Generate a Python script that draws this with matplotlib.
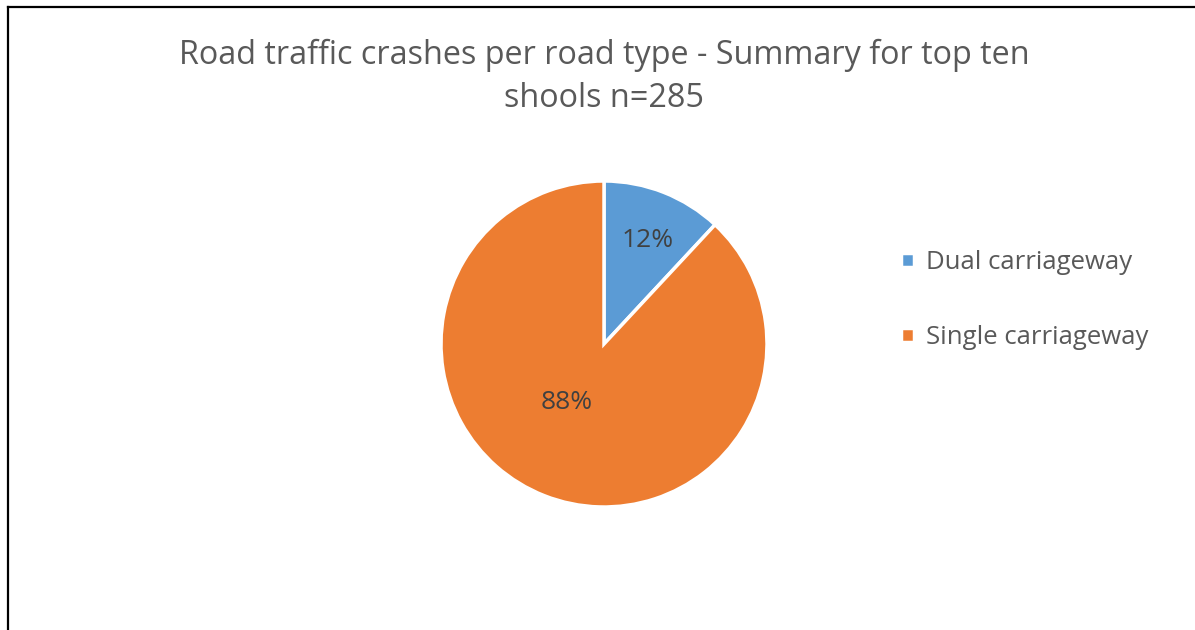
import matplotlib
matplotlib.use("Agg")
import matplotlib.pyplot as plt
from matplotlib.lines import Line2D

categories = ["Dual carriageway", "Single carriageway"]
counts = [34, 251]
colors = ["#5B9BD5", "#ED7D31"]
title = "Road traffic crashes per road type - Summary for top ten\nshools n=285"

plt.rcParams['font.family'] = ['Open Sans', 'DejaVu Sans']

W, H = 1195, 630
fig = plt.figure(figsize=(W / 100, H / 100), dpi=100)
fig.patch.set_facecolor("white")

cx, cy, r = 604, 344, 163
ax = fig.add_axes([(cx - r) / W, (H - cy - r) / H, 2 * r / W, 2 * r / H])
wedges, texts, autotexts = ax.pie(
    counts, colors=colors, startangle=90, counterclock=False,
    autopct=lambda p: f"{p:.0f}%", pctdistance=0.71,
    wedgeprops=dict(edgecolor="white", linewidth=2.5),
    textprops=dict(color="#404040", fontsize=19))
ax.set_xlim(-1, 1)
ax.set_ylim(-1, 1)
autotexts[0].set_position((0.27, 0.635))
autotexts[1].set_position((-0.23, -0.36))

fig.text(cx / W, 1 - 39 / H, title, ha="center", va="top", fontsize=23.3,
         color="#595959", linespacing=1.38)

leg = fig.legend(wedges, categories, loc="center left",
                 bbox_to_anchor=(878 / W, 1 - 300 / H), frameon=False,
                 fontsize=18.5, labelcolor="#595959", handlelength=0.5,
                 handleheight=0.5, handletextpad=0.45, labelspacing=1.95)

# frame lines (cropped chart border)
fig.add_artist(Line2D([8 / W, 8 / W], [0, 1 - 7 / H], color="black", lw=1.6,
                      transform=fig.transFigure))
fig.add_artist(Line2D([8 / W, 1], [1 - 7 / H, 1 - 7 / H], color="black", lw=1.6,
                      transform=fig.transFigure))

fig.savefig("out.png", dpi=100)
